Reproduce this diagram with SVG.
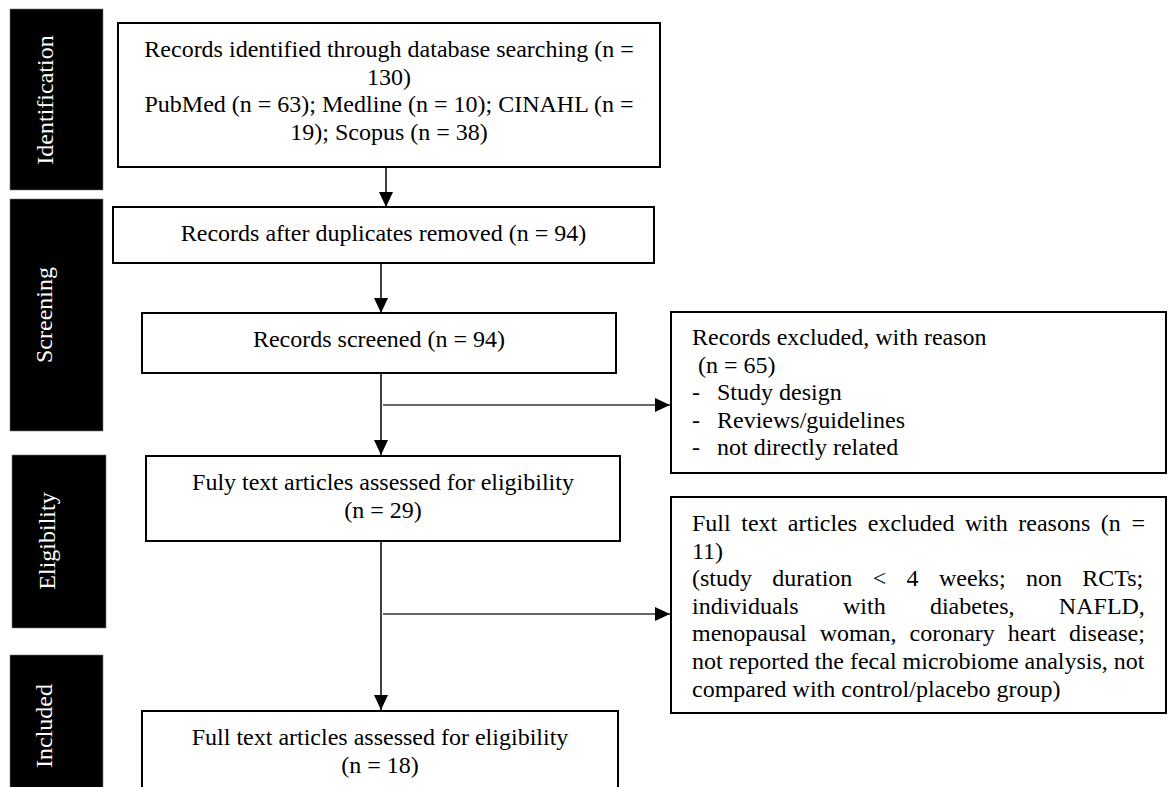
<svg xmlns="http://www.w3.org/2000/svg" width="1168" height="787" viewBox="0 0 1168 787">
<style>
.bg{fill:#ffffff}
.box{fill:#ffffff;stroke:#000000;stroke-width:2}
.phase{fill:#000000;stroke:#777777;stroke-width:0.6}
.t{font-family:"Liberation Serif","Times New Roman",serif;font-size:24px;fill:#000000}
.c{text-anchor:middle}
.pt{font-family:"Liberation Serif","Times New Roman",serif;font-size:24px;fill:#ffffff;text-anchor:middle}
.v{fill:none;stroke:#000000;stroke-width:1.5}
.h{fill:none;stroke:#333333;stroke-width:1.5}
</style>
<defs>
<marker id="ah" markerUnits="userSpaceOnUse" markerWidth="16" markerHeight="14" refX="15" refY="7" orient="auto">
<path d="M0,0 L15,7 L0,14 Z" fill="#000000"/>
</marker>
</defs>
<rect class="bg" x="0" y="0" width="1168" height="787"/>

<g id="phase-identification">
<rect class="phase" x="10" y="9" width="93" height="181"/>
<text class="pt" transform="translate(53,100) rotate(-90)">Identification</text>
</g>
<g id="phase-screening">
<rect class="phase" x="10" y="199" width="93" height="232"/>
<text class="pt" transform="translate(52,315) rotate(-90)">Screening</text>
</g>
<g id="phase-eligibility">
<rect class="phase" x="12" y="455" width="94" height="173"/>
<text class="pt" transform="translate(55,541) rotate(-90)">Eligibility</text>
</g>
<g id="phase-included">
<rect class="phase" x="10" y="655" width="93" height="145"/>
<text class="pt" transform="translate(52,726) rotate(-90)">Included</text>
</g>

<g id="connectors">
<line class="v" x1="386" y1="167" x2="386" y2="207" marker-end="url(#ah)"/>
<line class="v" x1="381" y1="263" x2="381" y2="313" marker-end="url(#ah)"/>
<line class="v" x1="381" y1="373" x2="381" y2="455" marker-end="url(#ah)"/>
<line class="h" x1="383" y1="405" x2="670" y2="405" marker-end="url(#ah)"/>
<line class="v" x1="381" y1="541" x2="381" y2="710" marker-end="url(#ah)"/>
<line class="h" x1="383" y1="614" x2="670" y2="614" marker-end="url(#ah)"/>
</g>

<g id="identified">
<rect class="box" x="118" y="23" width="542" height="144"/>
<text class="t c" x="389" y="57">Records identified through database searching (n =</text>
<text class="t c" x="389" y="84.6">130)</text>
<text class="t c" x="389" y="112.2">PubMed (n = 63); Medline (n = 10); CINAHL (n =</text>
<text class="t c" x="389" y="139.8">19); Scopus (n = 38)</text>
</g>

<g id="duplicates-removed">
<rect class="box" x="113" y="207" width="541" height="56"/>
<text class="t c" x="383.5" y="241">Records after duplicates removed (n = 94)</text>
</g>

<g id="screened">
<rect class="box" x="142" y="313" width="474" height="60"/>
<text class="t c" x="379" y="347">Records screened (n = 94)</text>
</g>

<g id="records-excluded">
<rect class="box" x="671" y="312" width="495" height="161"/>
<text class="t" x="692" y="345">Records excluded, with reason</text>
<text class="t" x="698" y="372.6">(n = 65)</text>
<text class="t" x="692" y="400.2">-</text>
<text class="t" x="717" y="400.2">Study design</text>
<text class="t" x="692" y="427.8">-</text>
<text class="t" x="717" y="427.8">Reviews/guidelines</text>
<text class="t" x="692" y="455.4">-</text>
<text class="t" x="717" y="455.4">not directly related</text>
</g>

<g id="full-text-assessed">
<rect class="box" x="146" y="456" width="474" height="85"/>
<text class="t c" x="383" y="490">Fuly text articles assessed for eligibility</text>
<text class="t c" x="383" y="517.6">(n = 29)</text>
</g>

<g id="full-text-excluded">
<rect class="box" x="671" y="497" width="495" height="216"/>
<text class="t" x="692" y="531" word-spacing="4.6">Full text articles excluded with reasons (n =</text>
<text class="t" x="692" y="558.6">11)</text>
<text class="t" x="692" y="586.2" word-spacing="14.35">(study duration &lt; 4 weeks; non RCTs;</text>
<text class="t" x="692" y="613.8" word-spacing="38.3">individuals with diabetes, NAFLD,</text>
<text class="t" x="692" y="641.4" word-spacing="7.1">menopausal woman, coronary heart disease;</text>
<text class="t" x="692" y="669">not reported the fecal microbiome analysis, not</text>
<text class="t" x="692" y="696.6">compared with control/placebo group)</text>
</g>

<g id="included">
<rect class="box" x="142" y="711" width="476" height="90"/>
<text class="t c" x="380" y="745">Full text articles assessed for eligibility</text>
<text class="t c" x="380" y="772.6">(n = 18)</text>
</g>
</svg>
